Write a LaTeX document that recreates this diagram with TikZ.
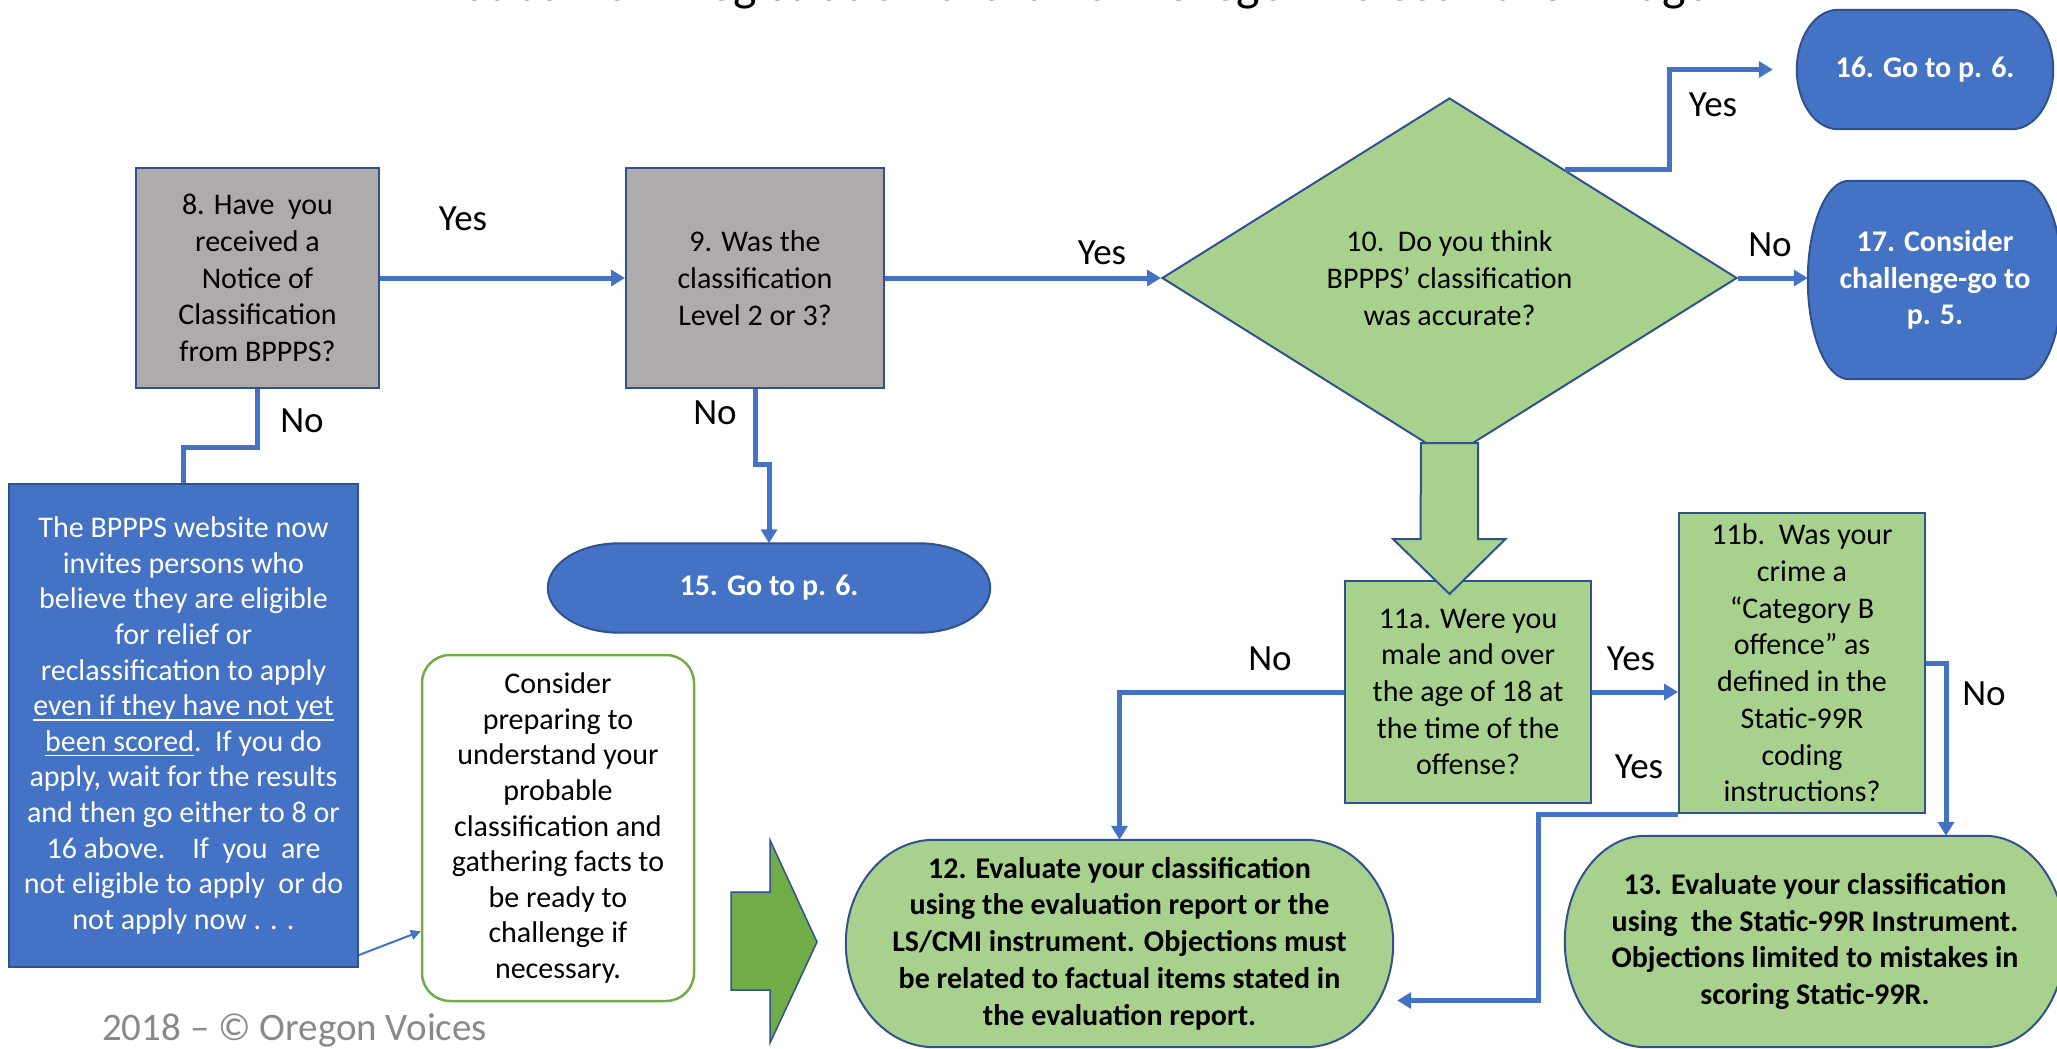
\documentclass[tikz,border=0pt]{standalone}
\usepackage{fontspec}
\setmainfont{Carlito}
\usetikzlibrary{arrows.meta, shapes.geometric, calc, backgrounds}
\definecolor{edgeblue}{HTML}{2F528F}
\definecolor{fillblue}{HTML}{4472C4}
\definecolor{leafgreen}{HTML}{A9D18E}
\definecolor{darkgreen}{HTML}{70AD47}
\definecolor{boxgray}{HTML}{AFABAB}
\definecolor{footgray}{HTML}{898989}
\newcommand{\qfont}{\fontsize{30}{36.7}\selectfont}
\newcommand{\tightfont}{\fontsize{30}{35.6}\selectfont}
\newcommand{\lblfont}{\fontsize{37}{44}\selectfont}
% underline with a rule of our own thickness
\newcommand{\undl}[1]{\setbox0\hbox{#1}\rlap{\rule[-5pt]{\wd0}{1.8pt}}\box0}
\tikzset{
  qbox/.style={rectangle, draw=edgeblue, line width=2pt, fill=boxgray,
               align=center, font=\qfont, inner sep=0pt},
  gbox/.style={qbox, fill=leafgreen},
  termbox/.style={rectangle, align=center, font=\qfont\bfseries, inner sep=0pt},
  termline/.style={draw=edgeblue, line width=2pt},
  link/.style={draw=fillblue, line width=5pt},
  conn/.style={link, -{Triangle[length=14pt, width=16pt]}},
  lbl/.style={font=\lblfont, inner sep=0pt},
}
% terminator outline with elliptical ends, drawn behind the node text
\newcommand{\termshape}[2]{%
  \path[termline, fill=#2] let \p1=(#1.north west), \p2=(#1.south east),
    \n1={0.161*(\x2-\x1)}, \n2={(\y1-\y2)/2} in
    (\x1+\n1,\y1) -- (\x2-\n1,\y1)
    arc[start angle=90, end angle=-90, x radius=\n1, y radius=\n2]
    -- (\x1+\n1,\y2)
    arc[start angle=270, end angle=90, x radius=\n1, y radius=\n2]
    -- cycle;}

\begin{document}
\begin{tikzpicture}[x=1pt, y=-1pt]
  \useasboundingbox (0,0) rectangle (2057,1049);
  \clip (0,0) rectangle (2057,1049);

  % page title, cut off by the top edge
  \node[anchor=base, font=\fontsize{50}{60}\selectfont] (title) at (1088,1)
    {Notice from Registration chart from Oregon Voices 2018 -- Page 4};

  % questions
  \node[qbox, minimum width=243pt, minimum height=220pt] (b8) at (257.5,278)
    {8. Have\ \ you\\received a\\Notice of\\Classification\\from BPPPS?};
  \node[qbox, minimum width=258pt, minimum height=220pt] (b9) at (755,278)
    {9. Was the\\classification\\Level 2 or 3?};
  \node[diamond, aspect=1.6, draw=edgeblue, line width=2pt, fill=leafgreen,
        align=center, font=\qfont, inner sep=2pt,
        minimum width=575pt, minimum height=360pt] (d10) at (1449.5,278)
    {10.\ \ Do you think\\BPPPS’ classification\\was accurate?};
  \node[gbox, minimum width=246pt, minimum height=222pt] (b11a) at (1468,692)
    {11a. Were you\\male and over\\the age of 18 at\\the time of the\\offense?};
  \node[gbox, minimum width=246pt, minimum height=300pt] (b11b) at (1802,663)
    {11b.\ \ Was your\\crime a\\“Category B\\offence” as\\defined in the\\Static-99R\\coding\\instructions?};

  % end points
  \node[termbox, text=white, minimum width=256pt, minimum height=119pt] (t16)
    at (1925,69.5) {16. Go to p. 6.};
  \node[termbox, text=white, minimum width=254pt, minimum height=198pt] (t17)
    at (1935,280) {17. Consider\\challenge-go to\\p. 5.};
  \node[termbox, text=white, minimum width=442pt, minimum height=89pt] (t15)
    at (769,588) {15. Go to p. 6.};
  \node[termbox, minimum width=547pt, minimum height=207pt] (t12) at (1119.5,943.5)
    {12. Evaluate your classification\\using the evaluation report or the\\
     LS/CMI instrument. Objections must\\be related to factual items stated in\\
     the evaluation report.};
  \node[termbox, minimum width=500pt, minimum height=211pt] (t13) at (1815,941.5)
    {13. Evaluate your classification\\using\ \ the Static-99R Instrument.\\
     Objections limited to mistakes in\\scoring Static-99R.};
  \begin{scope}[on background layer]
    \termshape{t16}{fillblue}
    \termshape{t17}{fillblue}
    \termshape{t15}{fillblue}
    \termshape{t12}{leafgreen}
    \termshape{t13}{leafgreen}
  \end{scope}

  % notes on the left
  \node[qbox, fill=fillblue, text=white, font=\tightfont,
        minimum width=349pt, minimum height=483pt] (info) at (183.5,725.5)
    {The BPPPS website now\\invites persons who\\believe they are eligible\\
     for relief or\\reclassification to apply\\\undl{even if they have not yet}\\
     \undl{been scored}.\ \ If you do\\apply, wait for the results\\
     and then go either to 8 or\\16 above.\ \ \ \ If\ \ you\ \ are\\
     not eligible to apply\ \ or do\\not apply now . . .};
  \node[rectangle, rounded corners=28pt, draw=darkgreen, line width=2.5pt,
        fill=white, align=center, font=\tightfont,
        minimum width=272pt, minimum height=346pt] (cons) at (558,828)
    {Consider\\preparing to\\understand your\\probable\\classification and\\
     gathering facts to\\be ready to\\challenge if\\necessary.};

  % block arrows
  \draw[draw=edgeblue, line width=2pt, fill=leafgreen]
    ($(d10.south)+(-28.5,-16)$) -- ++(57,0) -- ++(0,96) -- ++(27.5,0)
    -- ($(d10.south)+(0,135)$) -- ++(-56.5,-55) -- ++(27.5,0) -- cycle;
  \draw[draw=edgeblue, line width=1.5pt, fill=darkgreen]
    (731,892) -- (770,892) -- (770,840) -- (817,942) -- (770,1043)
    -- (770,990) -- (731,990) -- cycle;

  % connectors
  \draw[conn] (b8.east) -- (b9.west);
  \draw[conn] (b9.east) -- (d10.west);
  \draw[conn, shorten >=24pt] ($(d10.north)!0.4!(d10.east)$) -- ++(105,0) |- (t16.west);
  \draw[conn] (d10.east) -- (d10.east -| t17.west);
  \draw[conn] (b9.south) -- ++(0,75) -| (t15.north);
  \draw[link] (b8.south) -- ++(0,58) -| (info.north);
  \draw[conn] (b11a.west) -| (t12.north);
  \draw[conn] (b11a.east) -- (b11a.east -| b11b.west);
  \draw[conn] (b11b.east) -| ($(t13.north)+(131,0)$);
  \draw[conn] (b11b.south west) -- ++(-140,0) |- ($(t12.east)+(4,57)$);
  \draw[draw=fillblue, line width=2pt, -{Triangle[length=10pt, width=10pt]}]
    ($(info.south east)+(0,-13)$) -- ($(cons.south west)+(0,-71)$);

  % answers
  \node[lbl] (yes89) at (463,219) {Yes};
  \node[lbl] (yes910) at (1102,253) {Yes};
  \node[lbl] (yes1016) at (1713,105) {Yes};
  \node[lbl] (no1017) at (1770,245) {No};
  \node[lbl] (no9) at (715,413) {No};
  \node[lbl] (no8) at (302,421) {No};
  \node[lbl] (no11a) at (1270,659) {No};
  \node[lbl] (yes11a) at (1631,659) {Yes};
  \node[lbl] (no11b) at (1984,694) {No};
  \node[lbl] (yes11b) at (1639,767) {Yes};

  \node[anchor=base west, text=footgray, font=\fontsize{39}{46}\selectfont,
        inner sep=0pt] (foot) at (102,1040) {2018 – © Oregon Voices};
\end{tikzpicture}
\end{document}
